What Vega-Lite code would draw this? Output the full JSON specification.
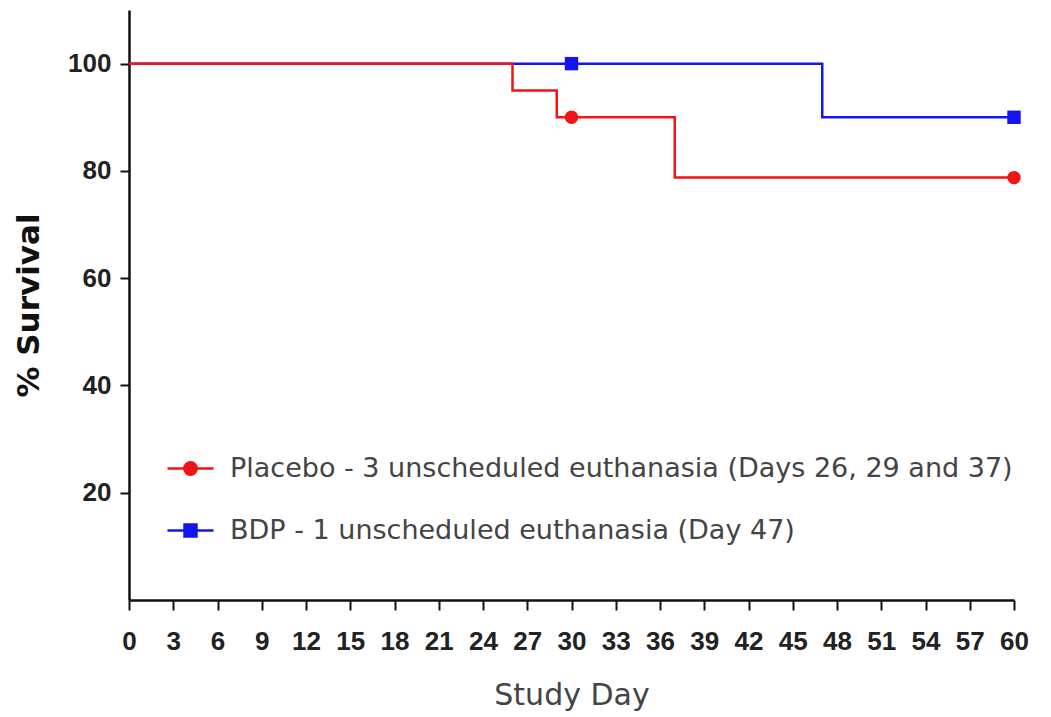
{
  "$schema": "https://vega.github.io/schema/vega-lite/v6.json",
  "width": 885,
  "height": 590,
  "autosize": {"type": "none"},
  "padding": {"left": 129, "top": 10, "right": 37, "bottom": 117},
  "background": "white",
  "config": {
    "view": {"stroke": null},
    "axis": {
      "domainColor": "#111",
      "domainWidth": 2.5,
      "tickColor": "#111",
      "tickWidth": 2,
      "grid": false
    }
  },
  "datasets": {
    "curves": [
      {"series": "BDP - 1 unscheduled euthanasia (Day 47)", "day": 0, "survival": 100},
      {"series": "BDP - 1 unscheduled euthanasia (Day 47)", "day": 47, "survival": 90},
      {"series": "BDP - 1 unscheduled euthanasia (Day 47)", "day": 60, "survival": 90},
      {"series": "Placebo - 3 unscheduled euthanasia (Days 26, 29 and 37)", "day": 0, "survival": 100},
      {"series": "Placebo - 3 unscheduled euthanasia (Days 26, 29 and 37)", "day": 26, "survival": 95},
      {"series": "Placebo - 3 unscheduled euthanasia (Days 26, 29 and 37)", "day": 29, "survival": 90},
      {"series": "Placebo - 3 unscheduled euthanasia (Days 26, 29 and 37)", "day": 37, "survival": 78.75},
      {"series": "Placebo - 3 unscheduled euthanasia (Days 26, 29 and 37)", "day": 60, "survival": 78.75}
    ],
    "censored": [
      {"series": "BDP - 1 unscheduled euthanasia (Day 47)", "day": 30, "survival": 100},
      {"series": "BDP - 1 unscheduled euthanasia (Day 47)", "day": 60, "survival": 90},
      {"series": "Placebo - 3 unscheduled euthanasia (Days 26, 29 and 37)", "day": 30, "survival": 90},
      {"series": "Placebo - 3 unscheduled euthanasia (Days 26, 29 and 37)", "day": 60, "survival": 78.75}
    ]
  },
  "layer": [
    {
      "data": {"name": "curves"},
      "mark": {"type": "line", "interpolate": "step-after", "strokeWidth": 2.5},
      "encoding": {
        "x": {
          "field": "day",
          "type": "quantitative",
          "scale": {"domain": [0, 60], "nice": false, "zero": false},
          "axis": {
            "values": [0, 3, 6, 9, 12, 15, 18, 21, 24, 27, 30, 33, 36, 39, 42, 45, 48, 51, 54, 57, 60],
            "title": "Study Day",
            "labelFont": "Liberation Sans",
            "labelFontWeight": "bold",
            "labelFontSize": 26,
            "labelColor": "#222",
            "labelOverlap": false,
            "labelFlush": false,
            "tickSize": 10,
            "labelPadding": 18,
            "titleFont": "DejaVu Sans",
            "titleFontSize": 30,
            "titleFontWeight": "normal",
            "titleColor": "#444",
            "titlePadding": 26
          }
        },
        "y": {
          "field": "survival",
          "type": "quantitative",
          "scale": {"domain": [0, 110], "nice": false},
          "axis": {
            "values": [20, 40, 60, 80, 100],
            "title": "% Survival",
            "labelFont": "Liberation Sans",
            "labelFontWeight": "bold",
            "labelFontSize": 26,
            "labelColor": "#222",
            "tickSize": 9,
            "labelPadding": 9,
            "titleFont": "DejaVu Sans",
            "titleFontSize": 31,
            "titleFontWeight": "bold",
            "titleColor": "#111",
            "titlePadding": 22
          }
        },
        "color": {
          "field": "series",
          "type": "nominal",
          "scale": {
            "domain": ["Placebo - 3 unscheduled euthanasia (Days 26, 29 and 37)", "BDP - 1 unscheduled euthanasia (Day 47)"],
            "range": ["#f01414", "#1414f0"]
          },
          "legend": {
            "orient": "none",
            "legendX": 37,
            "legendY": 434,
            "title": null,
            "padding": 0,
            "symbolSize": 2116,
            "symbolStrokeWidth": 2.5,
            "labelFont": "DejaVu Sans",
            "labelFontSize": 27,
            "labelColor": "#444",
            "labelOffset": 15,
            "labelLimit": 900,
            "rowPadding": 24,
            "encode": {
              "symbols": {
                "update": {
                  "shape": {"signal": "indexof(datum.value, 'Placebo') === 0 ? 'M-1,0H1M-0.27,0A0.27,0.27 0 1,1 0.27,0A0.27,0.27 0 1,1 -0.27,0Z' : 'M-1,0H1M-0.26,-0.26H0.26V0.26H-0.26Z'"},
                  "fill": {"scale": "color", "field": "value"},
                  "stroke": {"scale": "color", "field": "value"},
                  "opacity": {"value": 1},
                  "fillOpacity": {"value": 1},
                  "strokeWidth": {"value": 2.5}
                }
              }
            }
          }
        }
      }
    },
    {
      "data": {"name": "censored"},
      "transform": [{"filter": "indexof(datum.series, 'Placebo') === 0"}],
      "mark": {"type": "point", "filled": true, "size": 180, "opacity": 1, "shape": "circle"},
      "encoding": {
        "x": {"field": "day", "type": "quantitative"},
        "y": {"field": "survival", "type": "quantitative"},
        "color": {"field": "series", "type": "nominal"}
      }
    },
    {
      "data": {"name": "censored"},
      "transform": [{"filter": "indexof(datum.series, 'BDP') === 0"}],
      "mark": {"type": "point", "filled": true, "size": 180, "opacity": 1, "shape": "square"},
      "encoding": {
        "x": {"field": "day", "type": "quantitative"},
        "y": {"field": "survival", "type": "quantitative"},
        "color": {"field": "series", "type": "nominal"}
      }
    }
  ]
}
